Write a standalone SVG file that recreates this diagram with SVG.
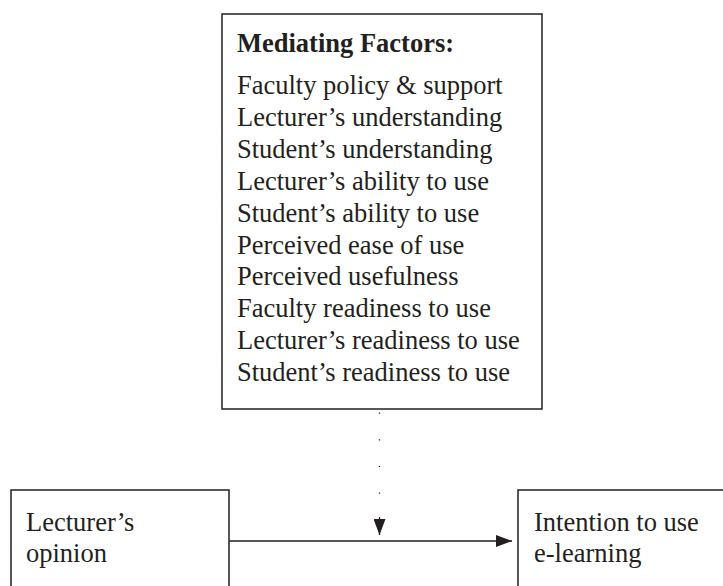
<svg xmlns="http://www.w3.org/2000/svg" width="723" height="586" viewBox="0 0 723 586">
<defs>
<style>
.box{fill:#fff;stroke:#231f20;stroke-width:1.5}
.t{font-family:"Liberation Serif","Times New Roman",serif;font-size:26.5px;fill:#231f20}
.b{font-weight:bold}
.ln{stroke:#231f20;stroke-width:1.3;fill:none}
.dot{stroke:#231f20;stroke-width:1.3;fill:none;stroke-dasharray:1.2 25.5}
</style>
<marker id="ah" viewBox="0 0 16 12" refX="16" refY="6" markerWidth="16" markerHeight="12" markerUnits="userSpaceOnUse" orient="auto">
<path d="M0,0 L16,6 L0,12 Z" fill="#231f20"/>
</marker>
</defs>
<rect width="723" height="586" fill="#fff"/>
<g id="mediating-factors">
<rect class="box" x="222" y="14" width="320" height="395"/>
<text class="t b" x="237" y="52">Mediating Factors:</text>
<text class="t" x="237" y="94">Faculty policy &amp; support</text>
<text class="t" x="237" y="126">Lecturer’s understanding</text>
<text class="t" x="237" y="158">Student’s understanding</text>
<text class="t" x="237" y="189.5">Lecturer’s ability to use</text>
<text class="t" x="237" y="221.5">Student’s ability to use</text>
<text class="t" x="237" y="253.5">Perceived ease of use</text>
<text class="t" x="237" y="285">Perceived usefulness</text>
<text class="t" x="237" y="317">Faculty readiness to use</text>
<text class="t" x="237" y="349">Lecturer’s readiness to use</text>
<text class="t" x="237" y="381">Student’s readiness to use</text>
</g>
<g id="lecturers-opinion">
<rect class="box" x="11" y="490" width="218" height="110"/>
<text class="t" x="26" y="531">Lecturer’s</text>
<text class="t" x="26" y="562">opinion</text>
</g>
<g id="intention">
<rect class="box" x="518" y="490" width="220" height="110"/>
<text class="t" x="534" y="531">Intention to use</text>
<text class="t" x="534" y="562">e-learning</text>
</g>
<g id="connectors">
<line class="ln" x1="229" y1="541" x2="512" y2="541" marker-end="url(#ah)"/>
<line class="dot" x1="379.5" y1="412.5" x2="379.5" y2="519"/>
<line class="ln" x1="379.5" y1="517" x2="379.5" y2="535" stroke-width="0.1" marker-end="url(#ah)"/>
</g>
</svg>
